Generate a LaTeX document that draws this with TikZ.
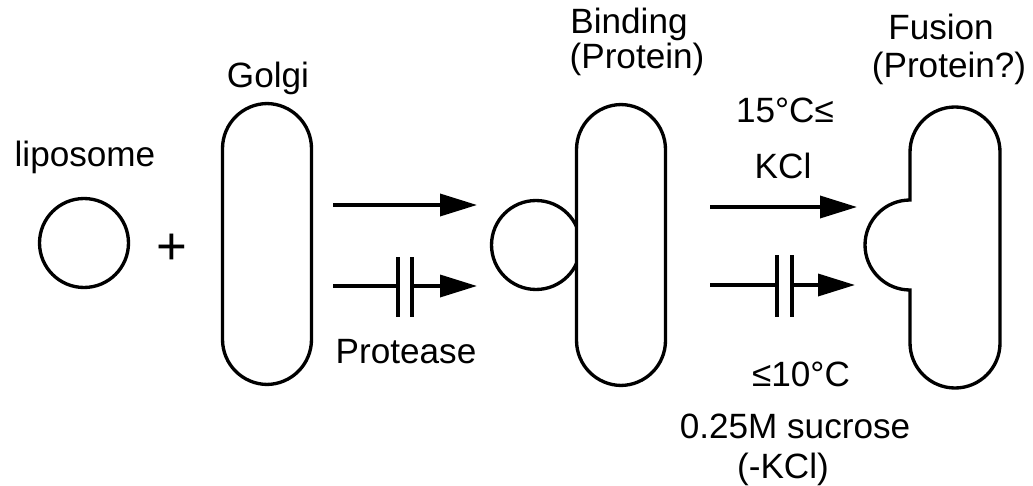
\documentclass[tikz,border=0pt]{standalone}
\usepackage{fontspec}
\setmainfont{Liberation Sans}
\usepackage{tikz}
\usetikzlibrary{arrows.meta,positioning}

\begin{document}
\begin{tikzpicture}[x=0.02cm,y=-0.02cm,
		font=\fontsize{20}{20}\selectfont,
		vesicle/.style={draw, circle, line width=1.9pt, minimum size=1.78cm, inner sep=0pt, fill=white},
		capsule/.style={draw, rectangle, rounded corners=0.9cm, line width=1.9pt, minimum width=1.78cm, minimum height=5.62cm, inner sep=0pt, fill=white},
		label/.style={anchor=base, inner sep=0pt},
		stem/.style={line width=2pt},
		flow/.style={line width=2pt, -{Triangle[length=0.74cm,width=0.44cm]}},
		blockbar/.style={line width=2.5pt}]
	\useasboundingbox (0,0) rectangle (1033,486);

	% liposome + Golgi
	\node[vesicle] (lipo) at (84,243) {};
	\node[label] (lipotext) at (85,167) {liposome};
	\node[font=\fontsize{30}{30}\selectfont] (plus) at (172,249) {+};
	\node[capsule] (golgi) at (267,244) {};
	\node[label] (golgitext) at (268,88) {Golgi};

	% first step
	\coordinate (s1) at (333,205);
	\coordinate (e1) at (477,205);
	\draw[flow] (s1) -- (e1);
	\coordinate (s2) at (333,286);
	\coordinate (bara) at (398,286);
	\coordinate (barb) at (412,286);
	\coordinate (e2) at (477,286);
	\draw[stem] (s2) -- (bara);
	\draw[flow] (barb) -- (e2);
	\draw[blockbar] ([yshift=0.58cm]bara) -- ([yshift=-0.62cm]bara);
	\draw[blockbar] ([yshift=0.58cm]barb) -- ([yshift=-0.62cm]barb);
	\node[label] (proteasetext) at (406,363) {Protease};

	% binding
	\node[vesicle] (bound) at (536,245) {};
	\node[capsule] (binding) at (621,245) {};
	\node[label] (bindtext) at (629,34) {Binding};
	\node[label] (bindprot) at (637,69) {(Protein)};

	% second step
	\coordinate (s3) at (710,207);
	\coordinate (e3) at (857,207);
	\draw[flow] (s3) -- (e3);
	\coordinate (s4) at (710,285);
	\coordinate (barc) at (777,285);
	\coordinate (bard) at (792,285);
	\coordinate (e4) at (855,285);
	\draw[stem] (s4) -- (barc);
	\draw[flow] (bard) -- (e4);
	\draw[blockbar] ([yshift=0.6cm]barc) -- ([yshift=-0.64cm]barc);
	\draw[blockbar] ([yshift=0.6cm]bard) -- ([yshift=-0.64cm]bard);
	\node[label] (warm) at (785,123) {15°C≤};
	\node[label] (kcl) at (783,178) {KCl};
	\node[label] (cold) at (801,386) {≤10°C};
	\node[label] (sucrose) at (795,438) {0.25M sucrose};
	\node[label] (nokcl) at (783,478) {(-KCl)};

	% fusion
	\draw[line width=1.9pt] (910,200) [rounded corners=0.9cm] -- (910,107) -- (1000,107)
		-- (1000,388) -- (910,388) [sharp corners] -- (910,290)
		arc[start angle=90, end angle=270, radius=45] -- cycle;
	\node[label] (fustext) at (941,40) {Fusion};
	\node[label] (fusprot) at (949,78) {(Protein?)};
\end{tikzpicture}
\end{document}
